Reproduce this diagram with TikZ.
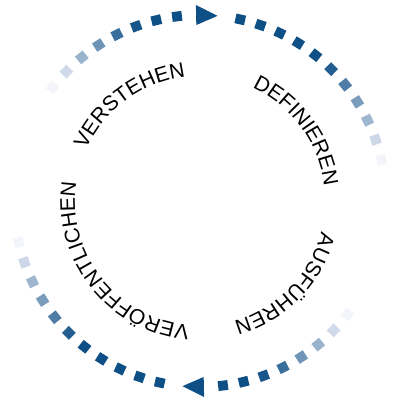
\documentclass[tikz,border=0pt]{standalone}
\usepackage{fontspec}
\setmainfont{Liberation Sans}
\usetikzlibrary{decorations.text}
\definecolor{dk}{HTML}{0E4F86}
\definecolor{lt}{HTML}{E6E9F4}
\colorlet{fnt}{lt!45!white}
\begin{document}
\begin{tikzpicture}[x=0.025cm,y=0.025cm,
  sq/.style={rectangle,inner sep=0pt,minimum size=0.245cm,fill=#1,draw=none},
  lbl/.style={decorate,decoration={text along path,text align=center,
      text={|\fontsize{15}{18}\selectfont|#1}}}]
\useasboundingbox (-200,-203) rectangle (204,201);
\coordinate (c) at (0,0);
% top arc and its 180-degree copy
\foreach \k/\p in {0/100,1/100,2/95,3/80,4/55,5/35,6/10}{
  \pgfmathsetmacro\a{97.1+6.47*\k}
  \pgfmathsetmacro\b{\a+180}
  \node[sq=dk!\p!lt, rotate=\a] (ta\k) at (\a:186) {};
  \node[sq=dk!\p!lt, rotate=\b] (ba\k) at (\b:186) {};
}
\node[sq=fnt, rotate=142.4] (ta7) at (142.4:186) {};
\node[sq=fnt, rotate=322.4] (ba7) at (322.4:186) {};
% right arc and its 180-degree copy
\foreach \k/\p in {0/100,1/100,2/100,3/100,4/100,5/90,6/70,7/50,8/33,9/12}{
  \pgfmathsetmacro\a{77.5-6.47*\k}
  \pgfmathsetmacro\b{\a+180}
  \node[sq=dk!\p!lt, rotate=\a] (ra\k) at (\a:186) {};
  \node[sq=dk!\p!lt, rotate=\b] (la\k) at (\b:186) {};
}
\node[sq=fnt, rotate=12.8] (ra10) at (12.8:186) {};
\node[sq=fnt, rotate=192.8] (la10) at (192.8:186) {};
% arrow heads
\fill[dk] (91.2:196) -- (84.6:186) -- (91.2:176) -- cycle;
\fill[dk] (271.2:196) -- (264.6:186) -- (271.2:176) -- cycle;
% labels
\path[lbl=VERSTEHEN] (171.2:125) arc[start angle=171.2,end angle=81.2,radius=3.125cm];
\path[lbl=DEFINIEREN] (81:125) arc[start angle=81,end angle=-9,radius=3.125cm];
\path[lbl=AUSFÜHREN] (0.7:125) arc[start angle=0.7,end angle=-89.3,radius=3.125cm];
\path[lbl=VERÖFFENTLICHEN] (278.3:125) arc[start angle=278.3,end angle=158.3,radius=3.125cm];
\end{tikzpicture}
\end{document}
